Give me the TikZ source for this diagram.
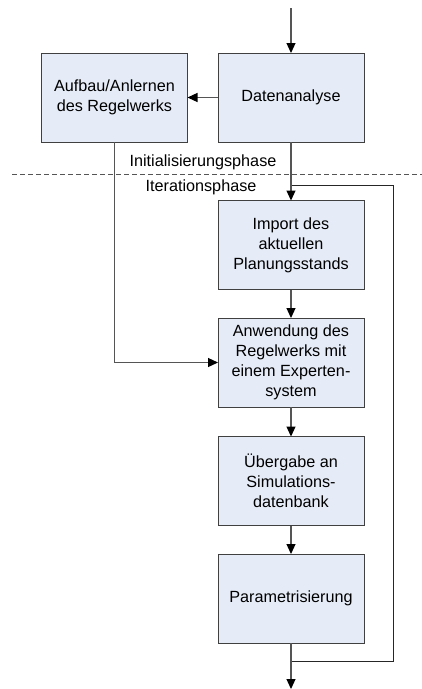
\documentclass[tikz,border=0pt]{standalone}
\usepackage{fontspec}
\setmainfont{Liberation Sans}
\usetikzlibrary{arrows.meta}
\definecolor{boxfill}{HTML}{E6ECF7}
\definecolor{boxline}{HTML}{404040}
\definecolor{conn}{HTML}{555555}
\begin{document}
\begin{tikzpicture}[x=1pt,y=-1pt,
  proc/.style={draw=boxline,line width=1pt,fill=boxfill,minimum width=146pt,minimum height=89pt,
    inner sep=0pt,outer sep=0pt,align=center,font=\fontsize{16.2}{20}\selectfont},
  conn/.style={draw=conn,line width=1.2pt,-{Triangle[length=10pt,width=9pt,fill=black,color=black]}},
  loopline/.style={draw=black!85,line width=0.8pt},
  lbl/.style={font=\fontsize{16.2}{18}\selectfont,inner sep=0pt}]
\useasboundingbox (0,0) rectangle (422,689);
\node[proc] (da) at (291,97.5) {Datenanalyse};
\node[proc] (au) at (114.5,97.5) {Aufbau/Anlernen\\des Regelwerks};
\node[proc] (im) at (291,245) {Import des\\aktuellen\\Planungsstands};
\node[proc] (an) at (291,362.5) {Anwendung des\\Regelwerks mit\\einem Experten-\\system};
\node[proc] (ue) at (291,481) {Übergabe an\\Simulations-\\datenbank};
\node[proc] (pa) at (291,598.5) {Parametrisierung};
\coordinate (top) at (291,8);
\coordinate (bot) at (291,689);
\coordinate (lp) at (291,185);
\coordinate (lpr) at (393,185);
\coordinate (lpb) at (393,661);
\coordinate (lpl) at (291,661);
\coordinate (dl) at (12,174);
\coordinate (dr) at (422,174);
\node[lbl] (ini) at (203,162) {Initialisierungsphase};
\node[lbl] (ite) at (201,187) {Iterationsphase};
\draw[dashed,draw=conn,line width=1pt,dash pattern=on 5pt off 3pt] (dl) -- (dr);
\draw[loopline] (lp) -- (lpr) -- (lpb) -- (lpl);
\draw[conn] (top) -- (da);
\draw[conn] (da) -- (au);
\draw[conn] (da) -- (im);
\draw[conn] (im) -- (an);
\draw[conn] (au.south) |- (an.west);
\draw[conn] (an) -- (ue);
\draw[conn] (ue) -- (pa);
\draw[conn] (pa) -- (bot);
\end{tikzpicture}
\end{document}
